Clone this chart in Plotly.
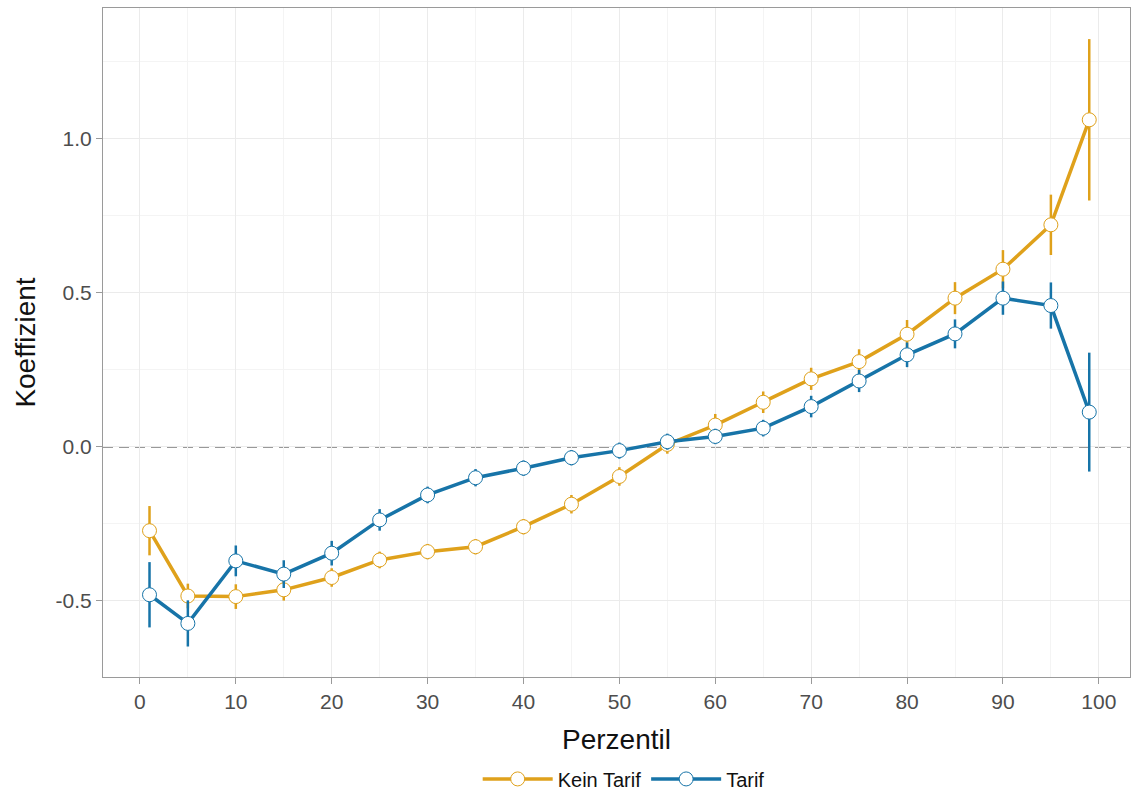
import plotly.graph_objects as go

# Perzentile der Quantilsregression
perzentil = [1, 5, 10, 15, 20, 25, 30, 35, 40, 45, 50, 55, 60, 65, 70, 75, 80, 85, 90, 95, 99]

# Koeffizienten und Halbbreite der Konfidenzintervalle
kein_tarif = [-0.272, -0.484, -0.486, -0.464, -0.424, -0.367, -0.340, -0.324, -0.259, -0.186,
              -0.096, 0.008, 0.071, 0.145, 0.221, 0.277, 0.366, 0.483, 0.577, 0.721, 1.062]
kein_tarif_ci = [0.08, 0.04, 0.04, 0.035, 0.03, 0.027, 0.025, 0.025, 0.025, 0.03,
                 0.03, 0.03, 0.036, 0.035, 0.036, 0.04, 0.046, 0.052, 0.062, 0.098, 0.262]

tarif = [-0.480, -0.573, -0.370, -0.413, -0.345, -0.237, -0.156, -0.100, -0.069, -0.035,
         -0.012, 0.017, 0.034, 0.061, 0.131, 0.214, 0.299, 0.367, 0.483, 0.459, 0.113]
tarif_ci = [0.106, 0.075, 0.05, 0.045, 0.04, 0.035, 0.027, 0.028, 0.025, 0.025,
            0.026, 0.026, 0.025, 0.027, 0.035, 0.036, 0.04, 0.047, 0.054, 0.075, 0.193]

x_ticks = list(range(0, 101, 10))
y_ticks = [-0.5, 0.0, 0.5, 1.0]
y_ticklabels = ["-0.5", "0.0", "0.5", "1.0"]

ORANGE = "#DFA11B"
BLUE = "#1774A8"
FONT = "Liberation Sans, Arial, sans-serif"

fig = go.Figure()

for name, vals, ci, col in [("Kein Tarif", kein_tarif, kein_tarif_ci, ORANGE),
                            ("Tarif", tarif, tarif_ci, BLUE)]:
    fig.add_trace(go.Scatter(
        x=perzentil, y=vals, name=name, mode="lines+markers",
        line=dict(color=col, width=3.5),
        marker=dict(size=14, color="white", line=dict(color=col, width=1)),
        error_y=dict(type="data", array=ci, visible=True, color=col, thickness=2.5, width=0),
    ))

# Nulllinie
fig.add_hline(y=0, line=dict(color="#999999", width=2, dash="10px,6px"), layer="below")

axis_common = dict(
    showline=True, linecolor="#9A9A9A", linewidth=1, mirror=True,
    ticks="outside", ticklen=6, tickcolor="#9A9A9A", tickwidth=1,
    showgrid=True, gridcolor="#EBEBEB", gridwidth=1.2,
    zeroline=False,
    tickfont=dict(family=FONT, size=21, color="#4D4D4D"),
    title_font=dict(family=FONT, size=28, color="#111111"),
)

fig.update_xaxes(
    **axis_common,
    range=[-3.85, 103.25],
    tickvals=x_ticks,
    minor=dict(dtick=5, tick0=0, showgrid=True, gridcolor="#F4F4F4", gridwidth=1, ticks=""),
    title_text="Perzentil", title_standoff=17,
)
fig.update_yaxes(
    **axis_common,
    range=[-0.747, 1.425],
    tickvals=y_ticks, ticktext=y_ticklabels,
    minor=dict(dtick=0.25, tick0=0, showgrid=True, gridcolor="#F4F4F4", gridwidth=1, ticks=""),
    title_text="Koeffizient", title_standoff=11,
)

fig.update_layout(
    width=1131, height=792,
    margin=dict(l=103, r=1, t=8, b=115),
    plot_bgcolor="white", paper_bgcolor="white",
    font=dict(family=FONT),
    legend=dict(orientation="h", x=0.507, xanchor="center",
                yref="container", y=0.0165, yanchor="middle",
                font=dict(family=FONT, size=20, color="#111111"),
                itemwidth=70, traceorder="normal"),
)

fig.write_html("out.html")
